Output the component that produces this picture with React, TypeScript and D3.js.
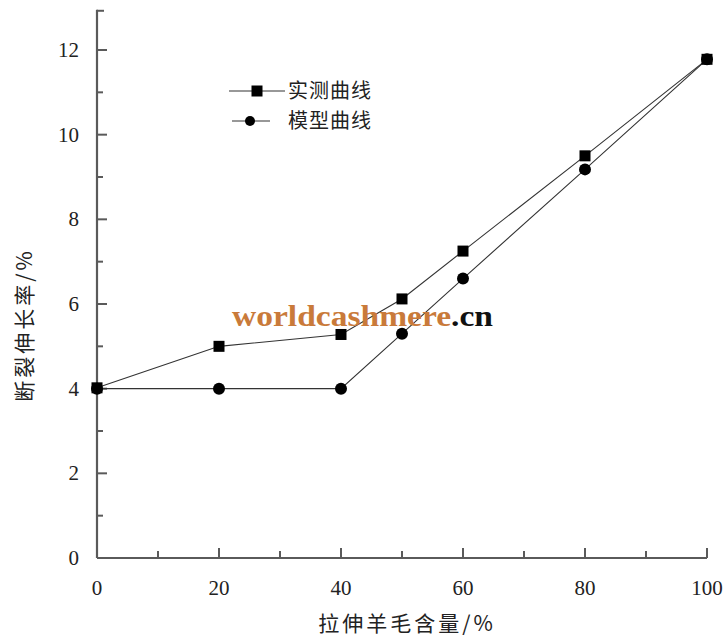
import { useEffect, useRef } from "react";
import * as d3 from "d3";

// ─── Data ─────────────────────────────────────────────────────────────────────

const X_CONTENT = [0, 20, 40, 50, 60, 80, 100];
const MEASURED = [4.02, 5.0, 5.28, 6.12, 7.25, 9.5, 11.78];
const MODEL = [4.0, 4.0, 4.0, 5.3, 6.6, 9.18, 11.78];

const X_TICKS = [0, 20, 40, 60, 80, 100];
const X_MINOR = [10, 30, 50, 70, 90];
const Y_TICKS = [0, 2, 4, 6, 8, 10, 12];
const Y_MINOR = [1, 3, 5, 7, 9, 11];

const SERIES_NAMES = ["实测曲线", "模型曲线"];
const X_LABEL = "拉伸羊毛含量/%";
const Y_LABEL = "断裂伸长率/%";

// ─── Styles ───────────────────────────────────────────────────────────────────

const AXIS = "#5a5a5a";
const INK = "#222";
const SERIF = "'Liberation Serif', 'DejaVu Serif', serif";
const CJK = "'Noto Sans CJK SC', sans-serif";

export default function App() {
  const svgRef = useRef<SVGSVGElement>(null);

  useEffect(() => {
    if (!svgRef.current) return;
    const W = 727,
      H = 644;
    const svg = d3.select(svgRef.current);
    svg.selectAll("*").remove();

    const x = d3.scaleLinear().domain([0, 100]).range([97, 707]);
    const y = d3.scaleLinear().domain([0, 12]).range([558, 50]);
    const yTop = y(12.95);

    const g = svg.append("g");

    // axes lines
    g.append("line")
      .attr("x1", x(0))
      .attr("x2", x(0))
      .attr("y1", y(0))
      .attr("y2", yTop)
      .attr("stroke", AXIS)
      .attr("stroke-width", 2.2);
    g.append("line")
      .attr("x1", x(0))
      .attr("x2", x(100))
      .attr("y1", y(0))
      .attr("y2", y(0))
      .attr("stroke", AXIS)
      .attr("stroke-width", 2.2);
    // top cap on y axis
    g.append("line")
      .attr("x1", x(0))
      .attr("x2", x(0) + 7)
      .attr("y1", yTop + 1)
      .attr("y2", yTop + 1)
      .attr("stroke", AXIS)
      .attr("stroke-width", 2);

    // y ticks (inward)
    Y_TICKS.forEach((v) => {
      g.append("line")
        .attr("x1", x(0))
        .attr("x2", x(0) + 10)
        .attr("y1", y(v))
        .attr("y2", y(v))
        .attr("stroke", AXIS)
        .attr("stroke-width", 2);
      g.append("text")
        .attr("x", 79)
        .attr("y", y(v) + 7)
        .attr("text-anchor", "end")
        .attr("font-family", SERIF)
        .attr("font-size", 21)
        .attr("fill", INK)
        .text(v);
    });
    Y_MINOR.forEach((v) => {
      g.append("line")
        .attr("x1", x(0))
        .attr("x2", x(0) + 6)
        .attr("y1", y(v))
        .attr("y2", y(v))
        .attr("stroke", AXIS)
        .attr("stroke-width", 2);
    });

    // x ticks (inward)
    X_TICKS.forEach((v) => {
      g.append("line")
        .attr("x1", x(v))
        .attr("x2", x(v))
        .attr("y1", y(0))
        .attr("y2", y(0) - 10)
        .attr("stroke", AXIS)
        .attr("stroke-width", 2);
      g.append("text")
        .attr("x", x(v))
        .attr("y", 595)
        .attr("text-anchor", "middle")
        .attr("font-family", SERIF)
        .attr("font-size", 21)
        .attr("fill", INK)
        .text(v);
    });
    X_MINOR.forEach((v) => {
      g.append("line")
        .attr("x1", x(v))
        .attr("x2", x(v))
        .attr("y1", y(0))
        .attr("y2", y(0) - 7)
        .attr("stroke", AXIS)
        .attr("stroke-width", 2);
    });

    // axis labels
    g.append("text")
      .attr("x", 407)
      .attr("y", 631)
      .attr("text-anchor", "middle")
      .attr("font-family", CJK)
      .attr("font-size", 21)
      .attr("letter-spacing", 3)
      .attr("fill", INK)
      .text(X_LABEL);
    g.append("text")
      .attr("transform", `translate(32,325) rotate(-90)`)
      .attr("text-anchor", "middle")
      .attr("font-family", CJK)
      .attr("font-size", 21)
      .attr("letter-spacing", 3)
      .attr("fill", INK)
      .text(Y_LABEL);

    // lines
    const line = d3
      .line<number>()
      .x((_, i) => x(X_CONTENT[i]))
      .y((d) => y(d));

    [MEASURED, MODEL].forEach((vals) => {
      g.append("path")
        .attr("d", line(vals)!)
        .attr("fill", "none")
        .attr("stroke", "#333")
        .attr("stroke-width", 1.1);
    });

    // markers
    g.selectAll(".sq")
      .data(MEASURED)
      .enter()
      .append("rect")
      .attr("x", (_, i) => x(X_CONTENT[i]) - 5.5)
      .attr("y", (d) => y(d) - 5.5)
      .attr("width", 11)
      .attr("height", 11)
      .attr("fill", "#000");
    g.selectAll(".ci")
      .data(MODEL)
      .enter()
      .append("circle")
      .attr("cx", (_, i) => x(X_CONTENT[i]))
      .attr("cy", (d) => y(d))
      .attr("r", 6)
      .attr("fill", "#000");

    // legend
    const lg = g.append("g");
    lg.append("line")
      .attr("x1", 229)
      .attr("x2", 285)
      .attr("y1", 91)
      .attr("y2", 91)
      .attr("stroke", "#333")
      .attr("stroke-width", 1.1);
    lg.append("rect")
      .attr("x", 257 - 5.5)
      .attr("y", 91 - 5.5)
      .attr("width", 11)
      .attr("height", 11)
      .attr("fill", "#000");
    lg.append("line")
      .attr("x1", 232)
      .attr("x2", 270)
      .attr("y1", 121)
      .attr("y2", 121)
      .attr("stroke", "#333")
      .attr("stroke-width", 1.1);
    lg.append("circle")
      .attr("cx", 250)
      .attr("cy", 121)
      .attr("r", 5)
      .attr("fill", "#000");
    SERIES_NAMES.forEach((name, i) => {
      lg.append("text")
        .attr("x", 288)
        .attr("y", 98 + i * 30)
        .attr("font-family", CJK)
        .attr("font-size", 20)
        .attr("letter-spacing", 1)
        .attr("fill", INK)
        .text(name);
    });

    // watermark
    const wm = g
      .append("text")
      .attr("x", 232)
      .attr("y", 326)
      .attr("font-family", SERIF)
      .attr("font-weight", "bold")
      .attr("font-size", 29)
      .attr("textLength", 261)
      .attr("lengthAdjust", "spacingAndGlyphs");
    wm.append("tspan").attr("fill", "#c97a3a").text("worldcashmere");
    wm.append("tspan").attr("fill", "#111").text(".cn");

    svg.attr("viewBox", `0 0 ${W} ${H}`);
  }, []);

  return (
    <svg
      ref={svgRef}
      width={727}
      height={644}
      style={{ position: "absolute", left: 0, top: 0, background: "#fff" }}
    />
  );
}
